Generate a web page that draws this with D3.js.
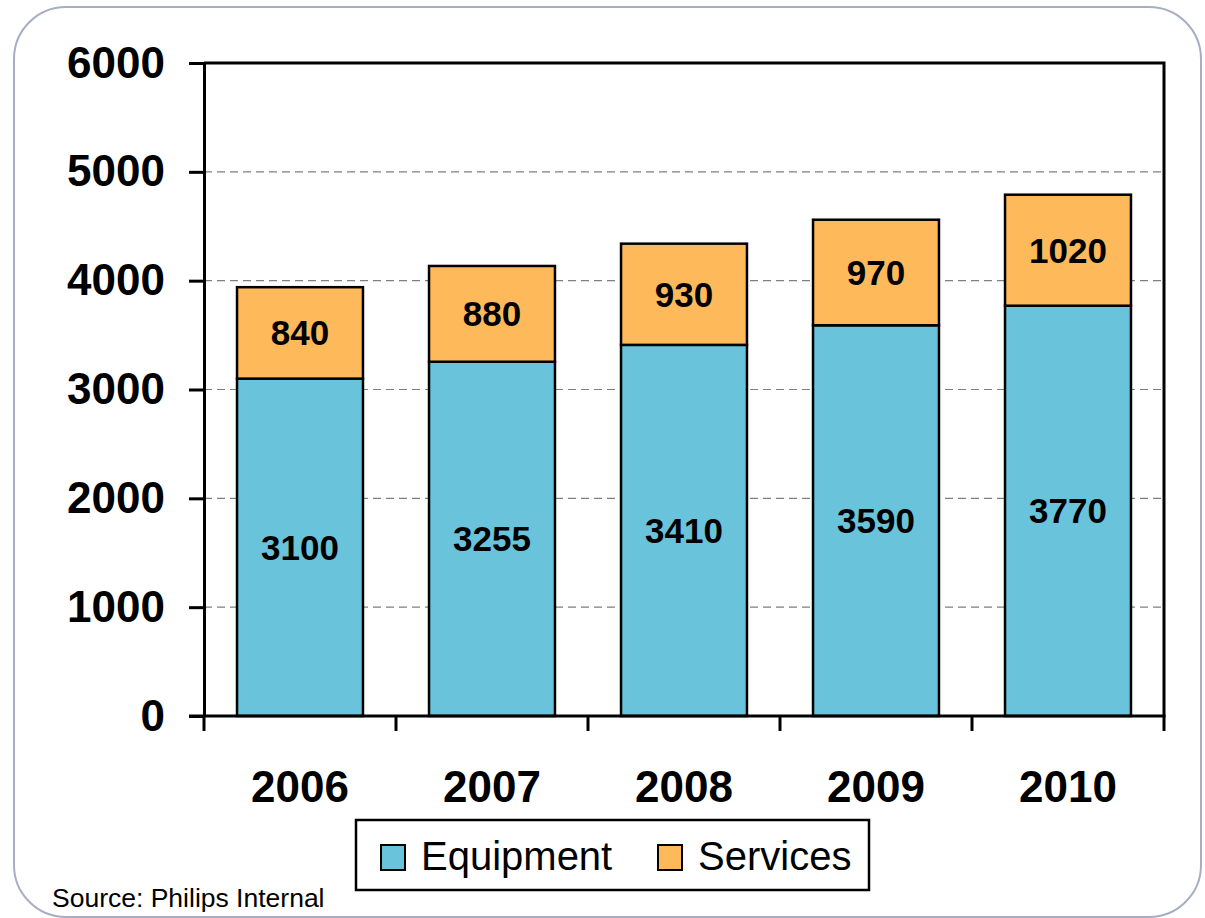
<!DOCTYPE html>
<html>
<head>
<meta charset="utf-8">
<script src="https://cdn.jsdelivr.net/npm/d3@7"></script>
<style>
  html, body { margin: 0; padding: 0; background: #fff; }
  svg { display: block; font-family: "Liberation Sans", Arial, sans-serif; }
</style>
</head>
<body>
<svg id="chart" width="1205" height="918"></svg>
<script>
// Data
const years = ['2006', '2007', '2008', '2009', '2010'];
const equipment = [3100, 3255, 3410, 3590, 3770];
const services = [840, 880, 930, 970, 1020];
const yTicks = [0, 1000, 2000, 3000, 4000, 5000, 6000];
const seriesNames = ['Equipment', 'Services'];

const COLOR_EQUIP = '#69C3DB';
const COLOR_SERV = '#FEB95A';
const seriesColors = [COLOR_EQUIP, COLOR_SERV];

const svg = d3.select('#chart');

// Rounded frame around the slide
svg.append('rect')
  .attr('x', 14).attr('y', 7)
  .attr('width', 1187).attr('height', 910)
  .attr('rx', 52).attr('ry', 52)
  .attr('fill', '#fff')
  .attr('stroke', '#A7ADC6')
  .attr('stroke-width', 2);

const plot = { left: 204, right: 1164, top: 63, bottom: 716 };

const x = d3.scaleBand()
  .domain(years)
  .range([plot.left, plot.right])
  .paddingInner(0.344)
  .paddingOuter(0.172);

const y = d3.scaleLinear()
  .domain([0, 6000])
  .range([plot.bottom, plot.top]);

// Dashed gridlines
svg.append('g')
  .selectAll('line')
  .data(yTicks.filter(t => t > 0 && t < 6000))
  .join('line')
  .attr('x1', plot.left).attr('x2', plot.right)
  .attr('y1', d => y(d)).attr('y2', d => y(d))
  .attr('stroke', '#7f7f7f')
  .attr('stroke-width', 1.2)
  .attr('stroke-dasharray', '8,5');

// Stack the two series
const rows = years.map((yr, i) => ({ year: yr, Equipment: equipment[i], Services: services[i] }));
const stacked = d3.stack().keys(seriesNames)(rows);

const layers = svg.append('g')
  .selectAll('g')
  .data(stacked)
  .join('g')
  .attr('fill', (d, i) => seriesColors[i]);

layers.selectAll('rect')
  .data(d => d)
  .join('rect')
  .attr('x', d => x(d.data.year))
  .attr('width', x.bandwidth())
  .attr('y', d => y(d[1]))
  .attr('height', d => y(d[0]) - y(d[1]))
  .attr('stroke', '#000')
  .attr('stroke-width', 2.5);

// Value labels inside segments
layers.selectAll('text')
  .data(d => d.map(v => ({ v, key: d.key })))
  .join('text')
  .attr('x', d => x(d.v.data.year) + x.bandwidth() / 2)
  .attr('y', d => (y(d.v[0]) + y(d.v[1])) / 2)
  .attr('text-anchor', 'middle')
  .attr('dominant-baseline', 'central')
  .attr('font-size', 35)
  .attr('font-weight', 'bold')
  .attr('fill', '#000')
  .text(d => d.v.data[d.key]);

// Plot frame: top and right lines
svg.append('path')
  .attr('d', `M${plot.left},${plot.top}H${plot.right}V${plot.bottom}`)
  .attr('fill', 'none')
  .attr('stroke', '#000')
  .attr('stroke-width', 3);

// Y axis
const yAxis = svg.append('g')
  .attr('transform', `translate(${plot.left},0)`)
  .call(d3.axisLeft(y).tickValues(yTicks).tickFormat(d3.format('d'))
    .tickSize(15).tickPadding(24).tickSizeOuter(0));
yAxis.select('.domain').attr('stroke-width', 3);
yAxis.selectAll('.tick line').attr('stroke-width', 3);
yAxis.selectAll('.tick text')
  .attr('font-size', 44)
  .attr('font-weight', 'bold')
  .attr('font-family', '"Liberation Sans", Arial, sans-serif')
  .attr('fill', '#000');

// X axis (labels centred, tick marks on category boundaries)
const xAxis = svg.append('g')
  .attr('transform', `translate(0,${plot.bottom})`)
  .call(d3.axisBottom(x).tickSize(0).tickPadding(55).tickSizeOuter(0));
xAxis.select('.domain').remove();
xAxis.selectAll('.tick text')
  .attr('font-size', 44)
  .attr('font-weight', 'bold')
  .attr('font-family', '"Liberation Sans", Arial, sans-serif')
  .attr('fill', '#000');

const gap = (x.step() - x.bandwidth()) / 2;
const boundaries = years.map(yr => x(yr) - gap).concat([x(years[years.length - 1]) + x.bandwidth() + gap]);
svg.append('g')
  .selectAll('line')
  .data(boundaries)
  .join('line')
  .attr('x1', d => d).attr('x2', d => d)
  .attr('y1', plot.bottom).attr('y2', plot.bottom + 15)
  .attr('stroke', '#000')
  .attr('stroke-width', 3);

svg.append('line')
  .attr('x1', plot.left - 15).attr('x2', plot.right + 1.5)
  .attr('y1', plot.bottom).attr('y2', plot.bottom)
  .attr('stroke', '#000')
  .attr('stroke-width', 3);

// Legend
const legend = svg.append('g').attr('transform', 'translate(356,820)');
legend.append('rect')
  .attr('width', 513).attr('height', 70)
  .attr('fill', '#fff')
  .attr('stroke', '#000')
  .attr('stroke-width', 2.5);
const legendX = [25, 302];
const items = legend.selectAll('g.item')
  .data(seriesNames)
  .join('g')
  .attr('class', 'item')
  .attr('transform', (d, i) => `translate(${legendX[i]},25)`);
items.append('rect')
  .attr('width', 24).attr('height', 25)
  .attr('fill', (d, i) => seriesColors[i])
  .attr('stroke', '#000')
  .attr('stroke-width', 2);
items.append('text')
  .attr('x', 40).attr('y', 25)
  .attr('font-size', 40)
  .attr('fill', '#000')
  .text(d => d);

// Source note
svg.append('text')
  .attr('x', 52).attr('y', 907)
  .attr('font-size', 26.5)
  .attr('fill', '#000')
  .text('Source: Philips Internal');
</script>
</body>
</html>
